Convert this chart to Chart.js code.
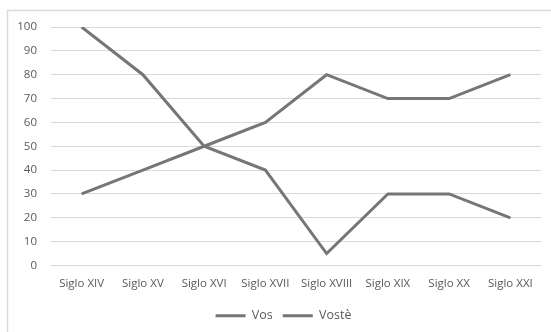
<!DOCTYPE html>
<html>
<head>
<meta charset="utf-8">
<script src="https://cdn.jsdelivr.net/npm/chart.js@4/dist/chart.umd.min.js"></script>
<style>
  html, body { margin: 0; padding: 0; background: #ffffff; }
  #wrap { position: relative; width: 551px; height: 332px; }
</style>
</head>
<body>
<div id="wrap"><canvas id="c" width="551" height="332"></canvas></div>
<script>
// Centuries on the horizontal axis
const categories = ["Siglo XIV", "Siglo XV", "Siglo XVI", "Siglo XVII", "Siglo XVIII", "Siglo XIX", "Siglo XX", "Siglo XXI"];
// Usage of each form of address per century
const vosValues = [100, 80, 50, 40, 5, 30, 30, 20];
const vosteValues = [30, 40, 50, 60, 80, 70, 70, 80];
// Value axis ticks
const yTicks = [0, 10, 20, 30, 40, 50, 60, 70, 80, 90, 100];

const lineColor = "#767676";
const gridColor = "#d9d9d9";
const textColor = "#595959";
const fontFamily = "'Open Sans', Lato, sans-serif";

// Light frame around the whole chart
const framePlugin = {
  id: "frame",
  beforeDraw(chart) {
    const ctx = chart.ctx;
    ctx.save();
    ctx.strokeStyle = "#d9d9d9";
    ctx.lineWidth = 1.5;
    ctx.strokeRect(7.5, 10.5, 560, 340);
    ctx.restore();
  }
};

// Nudge the legend block slightly to the right of centre
const legendShift = {
  id: "legendShift",
  afterLayout(chart) {
    if (chart.legend) { chart.legend.left += 16; }
  }
};

new Chart(document.getElementById("c"), {
  type: "line",
  data: {
    labels: categories,
    datasets: [
      { label: "Vos", data: vosValues, borderColor: lineColor, backgroundColor: lineColor, borderWidth: 3, pointRadius: 0, tension: 0 },
      { label: "Vostè", data: vosteValues, borderColor: lineColor, backgroundColor: lineColor, borderWidth: 3, pointRadius: 0, tension: 0 }
    ]
  },
  options: {
    responsive: false,
    animation: false,
    layout: { padding: { left: 10, right: 10, top: 27, bottom: 0 } },
    plugins: {
      legend: {
        position: "bottom",
        labels: {
          usePointStyle: true,
          pointStyle: "line",
          pointStyleWidth: 30,
          color: textColor,
          font: { family: fontFamily, size: 12.5 },
          padding: 10
        }
      },
      tooltip: { enabled: false }
    },
    scales: {
      x: {
        offset: true,
        grid: { display: false, drawTicks: false },
        border: { display: false },
        ticks: { color: textColor, font: { family: fontFamily, size: 11.5 }, padding: 11, maxRotation: 0, autoSkip: false },
        afterFit(scale) { scale.height = 34; }
      },
      y: {
        min: 0,
        max: 100,
        afterBuildTicks(scale) { scale.ticks = yTicks.map(v => ({ value: v })); },
        grid: { color: gridColor, lineWidth: 1, drawTicks: false },
        border: { display: false },
        ticks: { color: textColor, font: { family: fontFamily, size: 11.5 }, padding: 14 },
        afterFit(scale) { scale.width = 41; }
      }
    }
  },
  plugins: [framePlugin, legendShift]
});
</script>
</body>
</html>
